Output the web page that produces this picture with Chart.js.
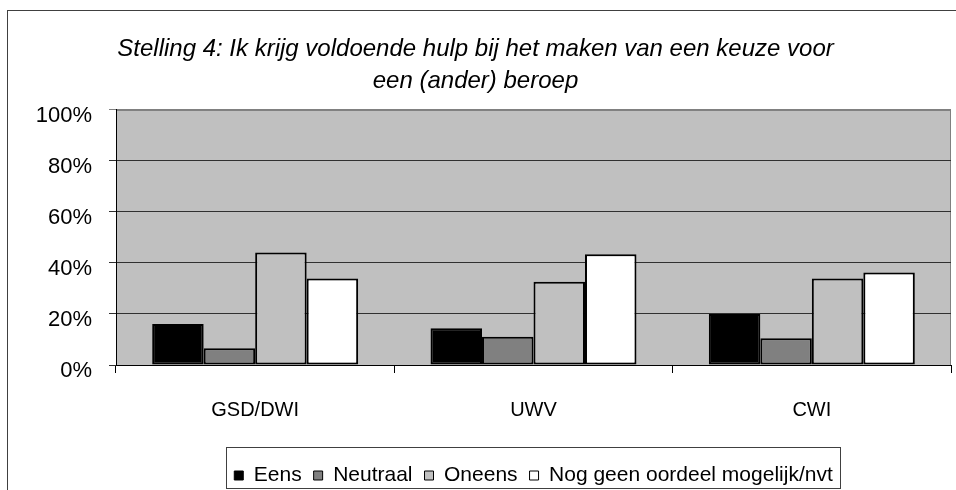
<!DOCTYPE html>
<html>
<head>
<meta charset="utf-8">
<script src="https://cdn.jsdelivr.net/npm/chart.js@4.4.1/dist/chart.umd.min.js"></script>
<style>
  body { margin: 0; background: #fff; }
  #wrap { width: 956px; height: 490px; position: relative; }
</style>
</head>
<body>
<div id="wrap"><canvas id="stellingChart"></canvas></div>
<script>
const categories = ['GSD/DWI', 'UWV', 'CWI'];
const eens = [16.1, 14.4, 20.0];
const neutraal = [6.6, 11.1, 10.5];
const oneens = [44.1, 32.6, 33.9];
const nogGeen = [33.9, 43.4, 36.3];
const yTicks = [0, 20, 40, 60, 80, 100];

const fontFamily = 'Arial, "Liberation Sans", sans-serif';

// grijze achtergrond van het plotvlak + kader rond de grafiek
const plotBackground = {
    id: 'plotBackground',
    beforeDraw(chart) {
        const { ctx, chartArea: a } = chart;
        ctx.save();
        ctx.fillStyle = '#C0C0C0';
        ctx.fillRect(a.left, a.top, a.right - a.left, a.bottom - a.top);
        ctx.strokeStyle = '#808080';
        ctx.lineWidth = 1;
        ctx.strokeRect(a.left + 0.5, a.top + 0.5, a.right - a.left - 1, a.bottom - a.top);
        ctx.restore();
    },
    afterDraw(chart) {
        const ctx = chart.ctx;
        ctx.save();
        ctx.strokeStyle = '#404040';
        ctx.lineWidth = 1;
        ctx.strokeRect(7.5, 10.5, 2000, 2000);
        ctx.restore();
    }
};

// legenda: vaste hoogte, centreren onder het plotvlak, kader eromheen
const legendBox = {
    id: 'legendBox',
    beforeLayout(chart) {
        const lg = chart.legend;
        if (lg && !lg._fixedHeight) {
            const fit = lg.fit;
            lg.fit = function () {
                fit.call(this);
                this.height = 44;
            };
            lg._fixedHeight = true;
        }
    },
    afterLayout(chart) {
        const lg = chart.legend;
        const a = chart.chartArea;
        const dx = (a.left + a.right) / 2 - (lg.left + lg.right) / 2;
        lg.left += dx;
        lg.right += dx;
        lg.top += 7;
    },
    afterDraw(chart) {
        const lg = chart.legend;
        const ctx = chart.ctx;
        const center = (lg.left + lg.right) / 2;
        const w = lg.lineWidths[0];
        ctx.save();
        ctx.strokeStyle = '#404040';
        ctx.lineWidth = 1;
        ctx.strokeRect(Math.round(center - w / 2 - 2) + 0.5, 447.5, Math.round(w + 4), 41);
        ctx.restore();
    }
};

new Chart(document.getElementById('stellingChart').getContext('2d'), {
    type: 'bar',
    data: {
        labels: categories,
        datasets: [
            { label: 'Eens', data: eens, backgroundColor: '#000000' },
            { label: 'Neutraal', data: neutraal, backgroundColor: '#808080' },
            { label: 'Oneens', data: oneens, backgroundColor: '#C0C0C0' },
            { label: 'Nog geen oordeel mogelijk/nvt', data: nogGeen, backgroundColor: '#FFFFFF' }
        ].map(ds => Object.assign(ds, {
            borderColor: '#000000',
            borderWidth: 2,
            borderSkipped: false,
            categoryPercentage: 0.74,
            barPercentage: 1.0
        }))
    },
    options: {
        responsive: true,
        maintainAspectRatio: false,
        animation: false,
        layout: { padding: { left: 0, right: 5, top: 0, bottom: 0 } },
        plugins: {
            title: {
                display: true,
                text: ['Stelling 4: Ik krijg voldoende hulp bij het maken van een keuze voor', 'een (ander) beroep'],
                color: '#000',
                font: { family: fontFamily, size: 24, style: 'italic', weight: 'normal', lineHeight: 1.333 },
                padding: { top: 33, bottom: 13 }
            },
            legend: {
                position: 'bottom',
                labels: {
                    color: '#000',
                    font: { family: fontFamily, size: 21 },
                    boxWidth: 9,
                    boxHeight: 9,
                    padding: 12,
                    generateLabels(chart) {
                        return Chart.defaults.plugins.legend.labels.generateLabels(chart)
                            .map(item => Object.assign(item, { lineWidth: 1 }));
                    }
                }
            },
            tooltip: { enabled: false }
        },
        scales: {
            x: {
                grid: { offset: true, drawOnChartArea: false, drawTicks: true, tickLength: 8, color: '#000' },
                border: { color: '#000', width: 1 },
                ticks: { color: '#000', font: { family: fontFamily, size: 20 }, padding: 25 },
                afterFit(scale) { scale.height = 81; }
            },
            y: {
                min: 0,
                max: 100,
                afterBuildTicks(scale) { scale.ticks = yTicks.map(v => ({ value: v })); },
                grid: {
                    color: ctx => (ctx.tick && ctx.tick.value === 100 ? '#808080' : '#303030'),
                    tickLength: 7
                },
                border: { color: '#000', width: 1 },
                ticks: {
                    color: '#000',
                    font: { family: fontFamily, size: 22 },
                    padding: 17,
                    labelOffset: 6,
                    callback: v => v + '%'
                },
                afterFit(scale) { scale.width = 116; }
            }
        }
    },
    plugins: [plotBackground, legendBox]
});
</script>
</body>
</html>
